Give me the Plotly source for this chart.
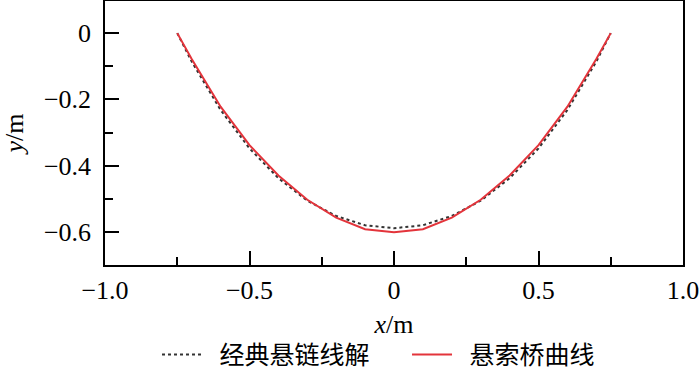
import plotly.graph_objects as go

# Data
x_vals = [-0.75, -0.7, -0.6, -0.5, -0.4, -0.3, -0.2, -0.1, 0.0, 0.1, 0.2, 0.3, 0.4, 0.5, 0.6, 0.7, 0.75]
catenary_y = [0.0, -0.086, -0.232, -0.348, -0.438, -0.506, -0.552, -0.580, -0.589, -0.580, -0.552, -0.506, -0.438, -0.348, -0.232, -0.086, 0.0]
bridge_y = [0.0, -0.078, -0.222, -0.338, -0.430, -0.503, -0.557, -0.592, -0.601, -0.592, -0.557, -0.503, -0.430, -0.338, -0.222, -0.078, 0.0]

x_tickvals = [-1.0, -0.5, 0.0, 0.5, 1.0]
x_ticktext = ["\u22121.0", "\u22120.5", "0", "0.5", "1.0"]
y_tickvals = [0.0, -0.2, -0.4, -0.6]
y_ticktext = ["0", "\u22120.2", "\u22120.4", "\u22120.6"]

series_names = ["经典悬链线解", "悬索桥曲线"]

FONT = "Liberation Serif, Times New Roman, Noto Sans CJK SC, serif"

fig = go.Figure()
fig.add_trace(go.Scatter(
    x=x_vals, y=catenary_y, mode="lines", name="\u00a0\u00a0" + series_names[0],
    line=dict(color="#333333", width=2, dash="3px,3px"),
))
fig.add_trace(go.Scatter(
    x=x_vals, y=bridge_y, mode="lines", name="\u00a0\u00a0" + series_names[1],
    line=dict(color="#e3343b", width=2),
))

axis_common = dict(
    showline=True, linecolor="black", linewidth=1.5, mirror=True,
    ticks="inside", ticklen=14, tickwidth=1.5, tickcolor="black",
    showgrid=False, zeroline=False,
    tickfont=dict(family=FONT, size=26, color="black"),
)

fig.update_xaxes(
    range=[-1.0, 1.0], tickvals=x_tickvals, ticktext=x_ticktext,
    minor=dict(ticks="inside", ticklen=8, tickwidth=1.5, tickcolor="black", dtick=0.25, tick0=0),
    ticklabelstandoff=1,
    title=dict(text="<i>x</i>/m", font=dict(family=FONT, size=26, color="black"), standoff=11),
    **axis_common,
)
fig.update_yaxes(
    range=[-0.7, 0.097], tickvals=y_tickvals, ticktext=y_ticktext,
    minor=dict(ticks="inside", ticklen=8, tickwidth=1.5, tickcolor="black", dtick=0.1, tick0=0),
    ticklabelstandoff=7,
    title=dict(text="<i>y</i>/m", font=dict(family=FONT, size=26, color="black"), standoff=14),
    **axis_common,
)

fig.update_layout(
    width=700, height=378,
    margin=dict(l=105, r=17, t=1, b=113, autoexpand=False),
    paper_bgcolor="white", plot_bgcolor="white",
    showlegend=True,
    legend=dict(
        orientation="h", x=0.09, xanchor="left", y=-0.34, yanchor="middle",
        font=dict(family=FONT, size=25, color="black"),
        bgcolor="rgba(0,0,0,0)", itemwidth=40, entrywidth=195,
    ),
)

fig.write_html(
    "out.html",
    config={"displayModeBar": False},
    post_script="document.body.style.margin='0';document.body.style.overflow='hidden';",
)
